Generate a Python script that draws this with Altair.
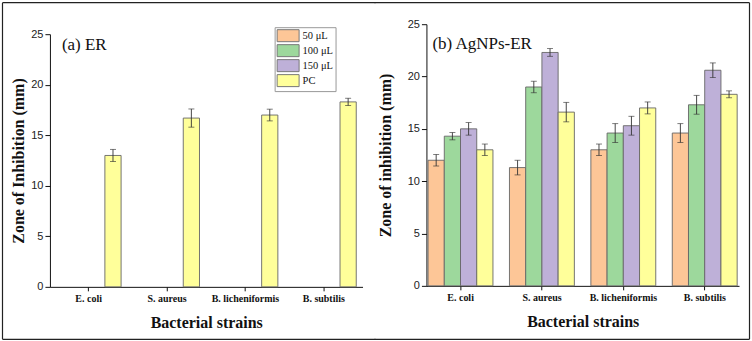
import altair as alt
import pandas as pd

strains = ["E. coli", "S. aureus", "B. licheniformis", "B. subtilis"]
series = ["50 μL", "100 μL", "150 μL", "PC"]
colors = ["#FDC697", "#9DD89C", "#BEB0D8", "#FFFF9A"]

# Zone of inhibition (mm), mean and SD, per strain
er_pc = [13.0, 16.7, 17.0, 18.3]
er_pc_sd = [0.6, 0.9, 0.58, 0.36]

ag_50 = [12.0, 11.3, 13.0, 14.6]
ag_100 = [14.3, 19.0, 14.6, 17.3]
ag_150 = [15.0, 22.3, 15.3, 20.6]
ag_pc = [13.0, 16.6, 17.0, 18.3]
ag_50_sd = [0.55, 0.7, 0.55, 0.9]
ag_100_sd = [0.35, 0.55, 0.9, 0.9]
ag_150_sd = [0.6, 0.37, 0.9, 0.7]
ag_pc_sd = [0.55, 0.93, 0.57, 0.33]

y_ticks = [0, 2.5, 5, 7.5, 10, 12.5, 15, 17.5, 20, 22.5, 25]


def long_table(columns):
    rows = []
    for name, means, sds in columns:
        for s, m, e in zip(strains, means, sds):
            rows.append({"strain": s, "series": name, "value": m,
                         "lo": m - e, "hi": m + e})
    return pd.DataFrame(rows)


er_df = long_table([("PC", er_pc, er_pc_sd)])
ag_df = long_table([
    ("50 μL", ag_50, ag_50_sd),
    ("100 μL", ag_100, ag_100_sd),
    ("150 μL", ag_150, ag_150_sd),
    ("PC", ag_pc, ag_pc_sd),
])

SERIF = "Liberation Serif"
SANS = "Liberation Sans"


def swatch_path(w, h):
    # wide rectangle; the symbol unit box is scaled to the swatch height
    k = w / h
    return f"M{-k:.3f},-1H{k:.3f}V1H{-k:.3f}Z"


def panel(df, label, label_xy, y_title, width, height, y_top, pad_inner, pad_outer,
          legend_xy, sym_w, sym_h, row_pad, legend_font, title_x, frame):
    x_enc = alt.X(
        "strain:N", sort=strains,
        scale=alt.Scale(domain=strains, paddingInner=pad_inner, paddingOuter=pad_outer),
        axis=alt.Axis(
            title="Bacterial strains", labelAngle=0, labelFont=SERIF,
            labelFontWeight="bold", labelFontSize=10, labelColor="#111",
            labelPadding=3, tickSize=4, tickColor="#111", domainColor="#111",
            titleFont=SERIF, titleFontSize=16, titleFontWeight="bold",
            titleColor="#111", titleY=36, titleBaseline="middle",
        ),
    )
    xo_enc = alt.XOffset("series:N", sort=series,
                         scale=alt.Scale(domain=series, paddingInner=0, paddingOuter=0))
    y_scale = alt.Scale(domain=[0, 25], nice=False, range=[height, y_top])

    bars = alt.Chart(df).mark_bar(stroke="#666", strokeWidth=0.9, opacity=1).encode(
        x=x_enc,
        xOffset=xo_enc,
        y=alt.Y(
            "value:Q", scale=y_scale,
            axis=alt.Axis(
                title=y_title, values=y_ticks, grid=False,
                labelExpr="datum.value % 5 === 0 ? datum.label : ''",
                labelFont=SANS, labelFontSize=11, labelColor="#222",
                labelPadding=2, tickColor="#111", domainColor="#111",
                tickSize={"condition": {"test": "datum.value % 5 === 0", "value": 5},
                          "value": 3},
                titleFont=SERIF, titleFontSize=16, titleFontWeight="bold",
                titleColor="#111", titleX=title_x, titleY=(height + y_top) / 2,
                titleBaseline="middle",
            ),
        ),
        color=alt.Color(
            "series:N", sort=series,
            scale=alt.Scale(domain=series, range=colors),
            legend=alt.Legend(
                title=None, orient="none",
                legendX=legend_xy[0], legendY=legend_xy[1],
                symbolType=swatch_path(sym_w, sym_h),
                symbolSize=sym_h * sym_h, symbolStrokeColor="#777",
                symbolStrokeWidth=1, symbolOpacity=1,
                symbolOffset=(sym_w - sym_h) / 2,
                labelFont=SERIF, labelFontSize=legend_font, labelColor="#111",
                labelOffset=(sym_w - sym_h) / 2 + 3, rowPadding=row_pad, padding=2,
                strokeColor="#999", fillColor="white",
            ),
        ),
    )

    err = alt.Chart(df).mark_rule(color="#333", strokeWidth=0.9).encode(
        x=alt.X("strain:N", sort=strains), xOffset=xo_enc,
        y=alt.Y("lo:Q", scale=y_scale), y2="hi:Q",
    )
    cap_lo = alt.Chart(df).mark_tick(color="#333", thickness=0.9, size=6).encode(
        x=alt.X("strain:N", sort=strains), xOffset=xo_enc,
        y=alt.Y("lo:Q", scale=y_scale),
    )
    cap_hi = alt.Chart(df).mark_tick(color="#333", thickness=0.9, size=6).encode(
        x=alt.X("strain:N", sort=strains), xOffset=xo_enc,
        y=alt.Y("hi:Q", scale=y_scale),
    )

    text = alt.Chart(pd.DataFrame({"t": [label]})).mark_text(
        font=SERIF, fontSize=17, align="left", baseline="middle", color="#111"
    ).encode(x=alt.value(label_xy[0]), y=alt.value(label_xy[1]), text="t:N")

    # outer frame segments drawn around this panel's part of the figure
    fdf = pd.DataFrame({"k": [0]})
    x0, x1, y0, y1, sides = frame
    segs = [
        alt.Chart(fdf).mark_rule(color="#222", strokeWidth=1.2).encode(
            x=alt.value(x0), x2=alt.value(x1), y=alt.value(y0)),
        alt.Chart(fdf).mark_rule(color="#222", strokeWidth=1.2).encode(
            x=alt.value(x0), x2=alt.value(x1), y=alt.value(y1)),
    ]
    for sx in sides:
        segs.append(alt.Chart(fdf).mark_rule(color="#222", strokeWidth=1.2).encode(
            x=alt.value(sx), y=alt.value(y0), y2=alt.value(y1)))

    return alt.layer(bars, err, cap_lo, cap_hi, text, *segs).properties(
        width=width, height=height)


left = panel(er_df, "(a) ER", (12, 21), "Zone of Inhibition (mm)", 313, 263, 10,
             0.172, 0.08, (225, 3), 22, 12, -3, 10.5, -31,
             (-47.5, 326, -21.5, 315.5, [-47.5]))
right = panel(ag_df, "(b) AgNPs-ER", (6, 20), "Zone of inhibition (mm)", 313, 262, 0,
              0.2, 0.02, (190, -6), 25, 13.5, -3, 11.5, -41,
              (-52, 323.5, -21.5, 315.5, [323.5]))

chart = alt.hconcat(left, right, spacing=-3).properties(
    padding={"left": 1, "top": 1, "right": 1, "bottom": 1},
    background="white",
).configure_view(stroke=None)

chart.save("out.html", embed_options={"renderer": "svg", "actions": False})
